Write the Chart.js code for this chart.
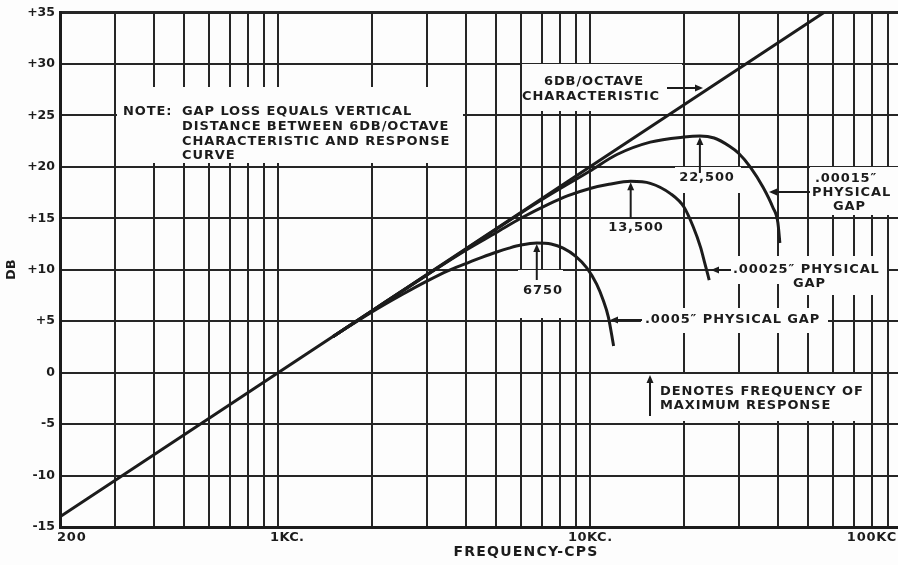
<!DOCTYPE html>
<html>
<head>
<meta charset="utf-8">
<script src="https://cdn.jsdelivr.net/npm/chart.js@4.4.1/dist/chart.umd.min.js"></script>
<style>
  html, body { margin: 0; padding: 0; background: #fdfdfd; overflow: hidden; }
  #wrap { width: 898px; height: 565px; overflow: hidden; }
</style>
</head>
<body>
<div id="wrap"><canvas id="gapChart" width="906" height="565"></canvas></div>
<script>
const INK = '#1c1c1c';
const PAPER = '#fdfdfd';
const FONT = '"DejaVu Sans", sans-serif';

// log grid, 200 cps .. 100 kc
const gridFreqs = [200, 300, 400, 500, 600, 700, 800, 900,
  1000, 2000, 3000, 4000, 5000, 6000, 7000, 8000, 9000,
  10000, 20000, 30000, 40000, 50000, 60000, 70000, 80000, 90000, 100000];
const xLabelFreqs = [200, 1000, 10000, 100000];
const xLabelTexts = ['200', '1KC.', '10KC.', '100KC'];
const dbMin = -15, dbMax = 35, dbStep = 5;

// 6 db/octave characteristic
const slopeFreq = [200, 1000, 10000, 56200];
const slopeDb = [-14, 0, 20, 35];

// .0005" physical gap
const gap0005Freq = [1500, 2000, 2500, 3000, 3500, 4000, 4500, 5000, 5500, 6000, 6750, 7500, 8200, 9000, 9750, 10500, 11000, 11450, 11900];
const gap0005Db = [3.5, 5.9, 7.6, 8.9, 9.9, 10.6, 11.2, 11.7, 12.1, 12.4, 12.6, 12.5, 12.1, 11.3, 10.2, 8.6, 7.1, 5.4, 2.6];

// .00025" physical gap
const gap00025Freq = [1500, 2000, 3000, 4000, 5000, 6000, 7400, 8500, 10000, 11500, 13500, 15600, 18100, 20000, 21400, 22600, 23300, 24100];
const gap00025Db = [3.5, 6.0, 9.5, 11.9, 13.6, 15.0, 16.4, 17.2, 17.9, 18.3, 18.6, 18.4, 17.4, 16.1, 14.2, 12.2, 10.7, 9.0];

// .00015" physical gap
const gap00015Freq = [1500, 2000, 4000, 7000, 10000, 12200, 15600, 20000, 22500, 25000, 28000, 30000, 32600, 35900, 38500, 40000, 40600];
const gap00015Db = [3.5, 6.0, 12.0, 16.8, 19.6, 21.2, 22.4, 22.9, 23.0, 22.8, 22.0, 21.3, 20.0, 18.0, 16.1, 14.6, 12.6];

// frequency of maximum response for each gap
const peakFreqs = [6750, 13500, 22500];
const peakTexts = ['6750', '13,500', '22,500'];

const toPoints = (fs, ds) => fs.map((f, i) => ({ x: f, y: ds[i] }));
const curves = [
  [gap0005Freq, gap0005Db],
  [gap00025Freq, gap00025Db],
  [gap00015Freq, gap00015Db]
];

function text(ctx, str, x, y, size, align, spacing) {
  ctx.font = 'bold ' + size + 'px ' + FONT;
  ctx.letterSpacing = (spacing == null ? 0.9 : spacing) + 'px';
  ctx.textAlign = align || 'left';
  ctx.textBaseline = 'middle';
  ctx.fillText(str, x, y);
}

function arrow(ctx, x1, y1, x2, y2, w) {
  const a = Math.atan2(y2 - y1, x2 - x1);
  const len = 8, half = 3.5;
  ctx.lineWidth = w || 2;
  ctx.beginPath();
  ctx.moveTo(x1, y1);
  ctx.lineTo(x2 - Math.cos(a) * 4, y2 - Math.sin(a) * 4);
  ctx.stroke();
  ctx.beginPath();
  ctx.moveTo(x2, y2);
  ctx.lineTo(x2 - len * Math.cos(a) + half * Math.sin(a), y2 - len * Math.sin(a) - half * Math.cos(a));
  ctx.lineTo(x2 - len * Math.cos(a) - half * Math.sin(a), y2 - len * Math.sin(a) + half * Math.cos(a));
  ctx.closePath();
  ctx.fill();
}

// blank areas behind the lettering, [x1, y1, x2, y2]
const blanks = [
  [117, 87, 463, 163],
  [522, 64, 682, 111],
  [810, 167, 898, 215],
  [675, 167, 741, 193],
  [518, 270, 563, 318],
  [730, 256, 887, 284],
  [789, 276, 887, 295],
  [641, 308, 828, 333],
  [645, 374, 866, 421]
];

const lettering = {
  id: 'lettering',
  beforeDraw(chart) {
    const ctx = chart.ctx;
    ctx.save();
    ctx.fillStyle = PAPER;
    ctx.fillRect(0, 0, chart.width, chart.height);
    ctx.restore();
  },
  beforeDatasetsDraw(chart) {
    const ctx = chart.ctx;
    ctx.save();
    ctx.fillStyle = PAPER;
    blanks.forEach(b => ctx.fillRect(b[0], b[1], b[2] - b[0], b[3] - b[1]));
    ctx.restore();
  },
  afterDatasetsDraw(chart) {
    const ctx = chart.ctx;
    const xs = chart.scales.x, ys = chart.scales.y;
    ctx.save();
    ctx.fillStyle = INK;
    ctx.strokeStyle = INK;

    // note
    text(ctx, 'NOTE:', 123, 112, 13);
    text(ctx, 'GAP LOSS EQUALS VERTICAL', 182, 112, 13);
    text(ctx, 'DISTANCE BETWEEN 6DB/OCTAVE', 182, 127, 13);
    text(ctx, 'CHARACTERISTIC AND RESPONSE', 182, 141.5, 13);
    text(ctx, 'CURVE', 182, 156, 13);

    // 6 db/octave pointer
    text(ctx, '6DB/OCTAVE', 594, 82, 13, 'center');
    text(ctx, 'CHARACTERISTIC', 591, 97, 13, 'center');
    arrow(ctx, 667, 88, 703, 88);

    // maximum response markers
    peakFreqs.forEach((f, i) => {
      const [fs, ds] = curves[i];
      const x = xs.getPixelForValue(f);
      const yTip = ys.getPixelForValue(ds[fs.indexOf(f)]) + 1;
      arrow(ctx, x, yTip + 36, x, yTip);
    });
    text(ctx, peakTexts[0], 543, 291, 13, 'center');
    text(ctx, peakTexts[1], 636, 228, 13, 'center');
    text(ctx, peakTexts[2], 707, 178, 13, 'center');

    // gap callouts
    arrow(ctx, 642, 320, 610, 320);
    text(ctx, '.0005\u2033 PHYSICAL GAP', 645, 320, 13);
    arrow(ctx, 731, 270, 711, 270);
    text(ctx, '.00025\u2033 PHYSICAL', 733, 270, 13);
    text(ctx, 'GAP', 793, 284, 13);
    arrow(ctx, 810, 192, 769, 192);
    text(ctx, '.00015\u2033', 815, 179, 13);
    text(ctx, 'PHYSICAL', 812, 193, 13);
    text(ctx, 'GAP', 833, 207, 13);

    // legend for the markers
    arrow(ctx, 650, 416, 650, 375);
    text(ctx, 'DENOTES FREQUENCY OF', 660, 392, 13);
    text(ctx, 'MAXIMUM RESPONSE', 660, 406, 13);

    // frequency axis lettering
    const lx = xLabelFreqs.map(f => xs.getPixelForValue(f));
    text(ctx, xLabelTexts[0], lx[0] - 3, 538, 13, 'left', 0.8);
    text(ctx, xLabelTexts[1], lx[1] - 8, 538, 13, 'left', 0.3);
    text(ctx, xLabelTexts[2], lx[2] - 22, 538, 13, 'left', 0.5);
    text(ctx, xLabelTexts[3], 897, 538, 13, 'right', 0.8);
    text(ctx, 'FREQUENCY-CPS', 526, 552, 14, 'center', 1.2);
    ctx.restore();
  }
};

const lineStyle = { borderColor: INK, borderWidth: 3, pointRadius: 0, fill: false };

new Chart(document.getElementById('gapChart'), {
  type: 'line',
  data: {
    datasets: [
      Object.assign({ data: toPoints(slopeFreq, slopeDb), tension: 0 }, lineStyle),
      ...curves.map(([fs, ds]) => Object.assign({ data: toPoints(fs, ds), cubicInterpolationMode: 'monotone' }, lineStyle))
    ]
  },
  options: {
    responsive: false,
    animation: false,
    layout: { padding: { left: 0, top: 12, right: 4, bottom: 38 } },
    plugins: { legend: { display: false }, tooltip: { enabled: false } },
    scales: {
      x: {
        type: 'logarithmic',
        min: 200,
        max: 100000,
        afterBuildTicks: (axis) => { axis.ticks = gridFreqs.map(v => ({ value: v })); },
        ticks: { display: false },
        grid: { color: '#262626', lineWidth: 2, drawTicks: false },
        border: { color: INK, width: 3 }
      },
      y: {
        min: dbMin,
        max: dbMax,
        afterFit: (axis) => { axis.width = 60; },
        ticks: {
          stepSize: dbStep,
          padding: 5,
          color: INK,
          font: { family: FONT, size: 12.5, weight: 'bold' },
          callback: (v) => v > 0 ? '+' + v : (v < 0 ? '-' + Math.abs(v) : '0')
        },
        title: { display: true, text: 'DB', color: INK, font: { family: FONT, size: 13, weight: 'bold' }, padding: { top: 4, bottom: 0 } },
        grid: {
          color: '#262626',
          lineWidth: (c) => c.tick && c.tick.value === dbMax ? 3 : 2,
          drawTicks: false
        },
        border: { color: INK, width: 3 }
      }
    }
  },
  plugins: [lettering]
});
</script>
</body>
</html>
